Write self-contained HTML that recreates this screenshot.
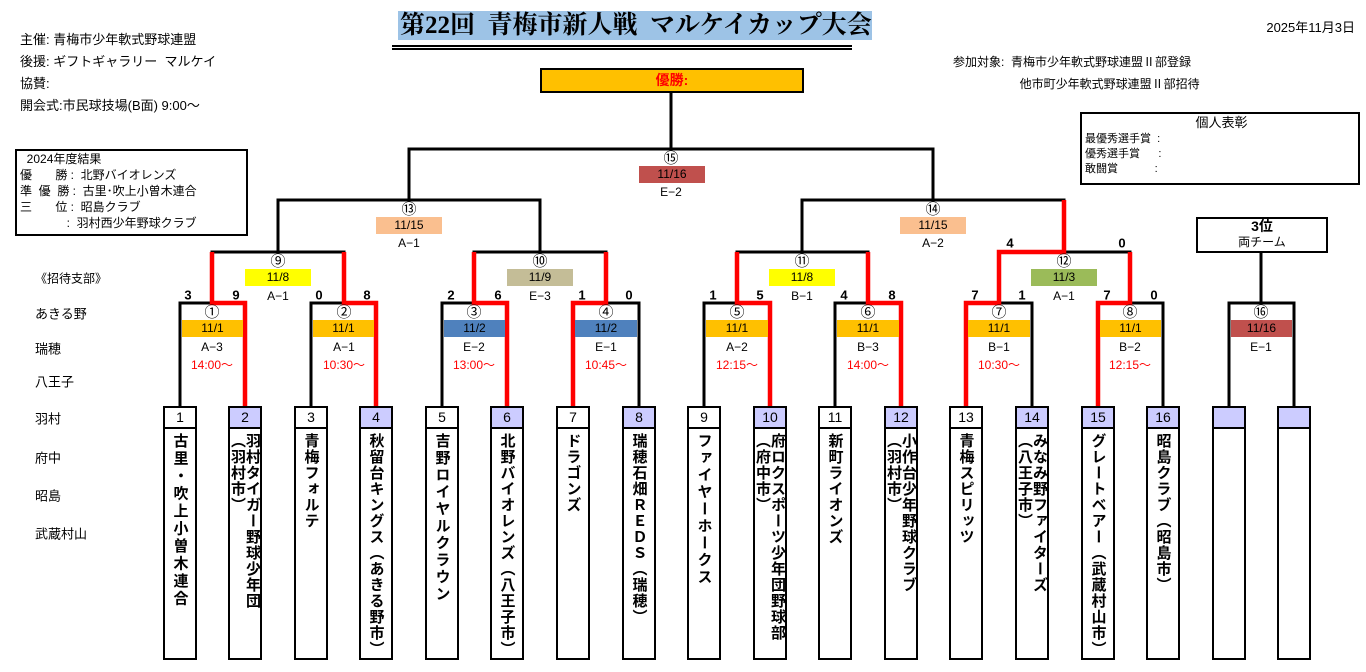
<!DOCTYPE html>
<html><head><meta charset="utf-8">
<style>
body{margin:0;width:1366px;height:672px;background:#fff;position:relative;overflow:hidden;font-family:"Liberation Sans","Noto Sans CJK JP",sans-serif;color:#000}
.a{position:absolute;white-space:nowrap}
.c{position:absolute;white-space:nowrap;transform:translate(-50%,-50%);font-size:12px;line-height:14px}
.cn{font-size:15px;line-height:16px;font-family:"Noto Sans CJK JP",sans-serif}
.band{position:absolute;height:17px;font-size:12px;line-height:17px;text-align:center}
.sc{position:absolute;font-weight:bold;font-size:13px;transform:translate(-50%,-50%)}
.tm{color:#f00}
.box{position:absolute;top:406px;width:30px;height:250px;border:2px solid #000;background:#fff}
.num{height:19px;border-bottom:2px solid #000;text-align:center;font-size:14px;line-height:19px}
.p .num{background:#ccf}
.nm{writing-mode:vertical-rl;font-weight:bold;font-size:15px;line-height:15px;letter-spacing:1px;margin:4px auto 0;height:225px;font-family:"Liberation Sans","Noto Sans CJK JP",sans-serif}
.left{position:absolute;left:35px;font-size:13px;transform:translateY(-50%)}
</style></head><body>
<svg width="1366" height="672" style="position:absolute;left:0;top:0">
<g stroke="#000" stroke-width="3" fill="none">
<path d="M180 406V303H245V406 M311 406V303H376V406 M442 406V303H507V406 M573 406V303H639V406 M704 406V303H770V406 M835 406V303H901V406 M966 406V303H1032V406 M1098 406V303H1163V406 M1229 406V303H1294V406"/>
<path d="M212 303V252H344V303 M474 303V252H606V303 M737 303V252H868V303 M999 303V252H1130V303"/>
<path d="M278 252V200H540V252 M802 252V200H1064V252"/>
<path d="M409 200V149H933V200 M671 149V92 M1261 303V252"/>
</g>
<g stroke="#f00" stroke-width="4.5" fill="none" stroke-linejoin="miter">
<path d="M245 406V303H212V252 M376 406V303H344V252 M507 406V303H474V252 M573 406V303H606V252 M770 406V303H737V252 M901 406V303H868V252 M966 406V303H999V252H1064V200 M1098 406V303H1130V252"/>
</g>
</svg>

<div class="a" style="left:398px;top:11px;width:474px;height:29px;background:#9DC3E6"></div>
<div class="a" style="left:400px;top:10px;font:bold 25px/31px 'Liberation Serif','Noto Serif CJK SC',serif">第22回&nbsp;&nbsp;青梅市新人戦&nbsp;&nbsp;マルケイカップ大会</div>
<div class="a" style="left:392px;top:45px;width:460px;height:1px;border-top:2px solid #000;border-bottom:2px solid #000;"></div>

<div class="a" style="left:20px;top:29px;font-size:13px;line-height:22px">主催: 青梅市少年軟式野球連盟<br>後援: ギフトギャラリー&nbsp;&nbsp;マルケイ<br>協賛:<br>開会式:市民球技場(B面) 9:00〜</div>

<div class="a" style="left:15px;top:149px;width:226px;height:83px;border:2px solid #000;font-size:12px;line-height:16px;padding-left:3px">&nbsp;&nbsp;2024年度結果<br>優&nbsp;&nbsp;&nbsp;&nbsp;&nbsp;&nbsp;&nbsp;勝 : &nbsp;北野バイオレンズ<br>準&nbsp;&nbsp;優&nbsp;&nbsp;勝 : &nbsp;古里･吹上小曽木連合<br>三&nbsp;&nbsp;&nbsp;&nbsp;&nbsp;&nbsp;&nbsp;位 : &nbsp;昭島クラブ<br>&nbsp;&nbsp;&nbsp;&nbsp;&nbsp;&nbsp;&nbsp;&nbsp;&nbsp;&nbsp;&nbsp;&nbsp;&nbsp;&nbsp;: &nbsp;羽村西少年野球クラブ</div>

<div class="a" style="right:11px;top:17px;font-size:13px">2025年11月3日</div>
<div class="a" style="left:953px;top:51px;font-size:12px;line-height:22px">参加対象: &nbsp;青梅市少年軟式野球連盟Ⅱ部登録<br>&nbsp;&nbsp;&nbsp;&nbsp;&nbsp;&nbsp;&nbsp;&nbsp;&nbsp;&nbsp;&nbsp;&nbsp;&nbsp;&nbsp;&nbsp;&nbsp;&nbsp;&nbsp;&nbsp;&nbsp;他市町少年軟式野球連盟Ⅱ部招待</div>
<div class="a" style="left:1080px;top:112px;width:273px;height:69px;border:2px solid #000;font-size:11px;line-height:15px;padding-left:3px"><div style="text-align:center;font-size:13px;line-height:18px">個人表彰</div>最優秀選手賞 &nbsp;:<br>優秀選手賞 &nbsp;&nbsp;&nbsp;&nbsp;&nbsp;:<br>敢闘賞 &nbsp;&nbsp;&nbsp;&nbsp;&nbsp;&nbsp;&nbsp;&nbsp;&nbsp;&nbsp;&nbsp;:</div>

<div class="a" style="left:540px;top:68px;width:260px;height:21px;background:#FFC000;border:2px solid #000;text-align:center;color:#f00;font-weight:bold;font-size:14px;line-height:21px">優勝:</div>

<div class="a" style="left:1196px;top:217px;width:128px;height:32px;border:2px solid #000;text-align:center;font-size:12px;line-height:15px;background:#fff"><b style="font-size:14px">3位</b><br>両チーム</div>

<div class="left" style="top:278px;font-size:12px">《招待支部》</div>
<div class="left" style="top:313px">あきる野</div>
<div class="left" style="top:348px">瑞穂</div>
<div class="left" style="top:381px">八王子</div>
<div class="left" style="top:418px">羽村</div>
<div class="left" style="top:457px">府中</div>
<div class="left" style="top:495px">昭島</div>
<div class="left" style="top:533px">武蔵村山</div>

<div class="c cn" style="left:671px;top:158px">⑮</div>
<div class="band" style="left:639px;top:166px;width:66px;background:#C0504D">11/16</div>
<div class="c" style="left:671px;top:192px">E−2</div>
<div class="c cn" style="left:409px;top:209px">⑬</div>
<div class="band" style="left:376px;top:217px;width:66px;background:#FABF8F">11/15</div>
<div class="c" style="left:409px;top:243px">A−1</div>
<div class="c cn" style="left:933px;top:209px">⑭</div>
<div class="band" style="left:900px;top:217px;width:66px;background:#FABF8F">11/15</div>
<div class="c" style="left:933px;top:243px">A−2</div>
<div class="c cn" style="left:278px;top:261px">⑨</div>
<div class="band" style="left:245px;top:269px;width:66px;background:#FFFF00">11/8</div>
<div class="c" style="left:278px;top:296px">A−1</div>
<div class="c cn" style="left:540px;top:261px">⑩</div>
<div class="band" style="left:507px;top:269px;width:66px;background:#C4BD97">11/9</div>
<div class="c" style="left:540px;top:296px">E−3</div>
<div class="c cn" style="left:802px;top:261px">⑪</div>
<div class="band" style="left:769px;top:269px;width:66px;background:#FFFF00">11/8</div>
<div class="c" style="left:802px;top:296px">B−1</div>
<div class="c cn" style="left:1064px;top:261px">⑫</div>
<div class="band" style="left:1031px;top:269px;width:66px;background:#9BBB59">11/3</div>
<div class="c" style="left:1064px;top:296px">A−1</div>
<div class="sc" style="left:1010px;top:243px">4</div>
<div class="sc" style="left:1122px;top:243px">0</div>

<div class="c cn" style="left:212px;top:312px">①</div><div class="band" style="left:182px;top:320px;width:61px;background:#FFC000">11/1</div><div class="c" style="left:212px;top:347px">A−3</div><div class="c tm" style="left:212px;top:365px">14:00〜</div>
<div class="c cn" style="left:344px;top:312px">②</div><div class="band" style="left:313px;top:320px;width:61px;background:#FFC000">11/1</div><div class="c" style="left:344px;top:347px">A−1</div><div class="c tm" style="left:344px;top:365px">10:30〜</div>
<div class="c cn" style="left:474px;top:312px">③</div><div class="band" style="left:444px;top:320px;width:61px;background:#4F81BD">11/2</div><div class="c" style="left:474px;top:347px">E−2</div><div class="c tm" style="left:474px;top:365px">13:00〜</div>
<div class="c cn" style="left:606px;top:312px">④</div><div class="band" style="left:575px;top:320px;width:62px;background:#4F81BD">11/2</div><div class="c" style="left:606px;top:347px">E−1</div><div class="c tm" style="left:606px;top:365px">10:45〜</div>
<div class="c cn" style="left:737px;top:312px">⑤</div><div class="band" style="left:706px;top:320px;width:62px;background:#FFC000">11/1</div><div class="c" style="left:737px;top:347px">A−2</div><div class="c tm" style="left:737px;top:365px">12:15〜</div>
<div class="c cn" style="left:868px;top:312px">⑥</div><div class="band" style="left:837px;top:320px;width:62px;background:#FFC000">11/1</div><div class="c" style="left:868px;top:347px">B−3</div><div class="c tm" style="left:868px;top:365px">14:00〜</div>
<div class="c cn" style="left:999px;top:312px">⑦</div><div class="band" style="left:968px;top:320px;width:62px;background:#FFC000">11/1</div><div class="c" style="left:999px;top:347px">B−1</div><div class="c tm" style="left:999px;top:365px">10:30〜</div>
<div class="c cn" style="left:1130px;top:312px">⑧</div><div class="band" style="left:1100px;top:320px;width:61px;background:#FFC000">11/1</div><div class="c" style="left:1130px;top:347px">B−2</div><div class="c tm" style="left:1130px;top:365px">12:15〜</div>
<div class="c cn" style="left:1261px;top:312px">⑯</div><div class="band" style="left:1231px;top:320px;width:61px;background:#C0504D">11/16</div><div class="c" style="left:1261px;top:347px">E−1</div>

<div class="sc" style="left:188px;top:295px">3</div><div class="sc" style="left:236px;top:295px">9</div>
<div class="sc" style="left:319px;top:295px">0</div><div class="sc" style="left:367px;top:295px">8</div>
<div class="sc" style="left:451px;top:295px">2</div><div class="sc" style="left:498px;top:295px">6</div>
<div class="sc" style="left:582px;top:295px">1</div><div class="sc" style="left:629px;top:295px">0</div>
<div class="sc" style="left:713px;top:295px">1</div><div class="sc" style="left:760px;top:295px">5</div>
<div class="sc" style="left:844px;top:295px">4</div><div class="sc" style="left:892px;top:295px">8</div>
<div class="sc" style="left:975px;top:295px">7</div><div class="sc" style="left:1022px;top:295px">1</div>
<div class="sc" style="left:1107px;top:295px">7</div><div class="sc" style="left:1154px;top:295px">0</div>

<div class="box" style="left:163px"><div class="num">1</div><div class="nm" style="letter-spacing:2.5px">古里・吹上小曽木連合</div></div>
<div class="box p" style="left:228px"><div class="num">2</div><div class="nm">羽村タイガー野球少年団<br>（羽村市）</div></div>
<div class="box" style="left:294px"><div class="num">3</div><div class="nm">青梅フォルテ</div></div>
<div class="box p" style="left:359px"><div class="num">4</div><div class="nm">秋留台キングス（あきる野市）</div></div>
<div class="box" style="left:425px"><div class="num">5</div><div class="nm" style="letter-spacing:2px">吉野ロイヤルクラウン</div></div>
<div class="box p" style="left:490px"><div class="num">6</div><div class="nm">北野バイオレンズ（八王子市）</div></div>
<div class="box" style="left:556px"><div class="num">7</div><div class="nm">ドラゴンズ</div></div>
<div class="box p" style="left:622px"><div class="num">8</div><div class="nm">瑞穂石畑ＲＥＤＳ（瑞穂）</div></div>
<div class="box" style="left:687px"><div class="num">9</div><div class="nm" style="letter-spacing:2px">ファイヤーホークス</div></div>
<div class="box p" style="left:753px"><div class="num">10</div><div class="nm">府ロクスポーツ少年団野球部<br>（府中市）</div></div>
<div class="box" style="left:818px"><div class="num">11</div><div class="nm">新町ライオンズ</div></div>
<div class="box p" style="left:884px"><div class="num">12</div><div class="nm">小作台少年野球クラブ<br>（羽村市）</div></div>
<div class="box" style="left:949px"><div class="num">13</div><div class="nm">青梅スピリッツ</div></div>
<div class="box p" style="left:1015px"><div class="num">14</div><div class="nm">みなみ野ファイターズ<br>（八王子市）</div></div>
<div class="box p" style="left:1081px"><div class="num">15</div><div class="nm">グレートベアー（武蔵村山市）</div></div>
<div class="box p" style="left:1146px"><div class="num">16</div><div class="nm">昭島クラブ（昭島市）</div></div>
<div class="box p" style="left:1212px"><div class="num">&nbsp;</div></div>
<div class="box p" style="left:1277px"><div class="num">&nbsp;</div></div>
</body></html>
